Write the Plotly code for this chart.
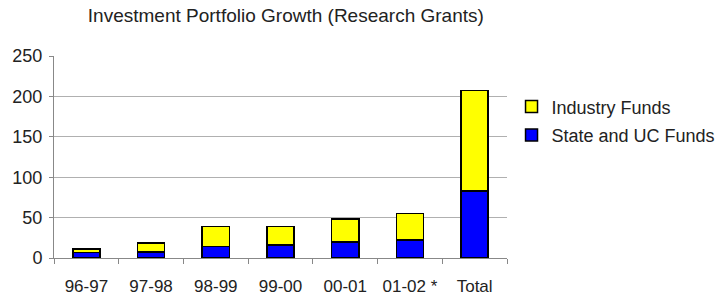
import plotly.graph_objects as go

categories = ["96-97", "97-98", "98-99", "99-00", "00-01", "01-02 *", "Total"]
state_uc = [7, 7.5, 14, 16, 20, 22, 83]
industry = [4, 11, 25, 23, 28, 33, 124]

fig = go.Figure()
fig.add_trace(go.Bar(x=categories, y=state_uc, name="State and UC Funds", legendgroup="b",
                     legendrank=2,
                     marker=dict(color="#0000ff", line=dict(color="#000000", width=1.5))))
fig.add_trace(go.Bar(x=categories, y=industry, name="Industry Funds", legendgroup="a",
                     legendrank=1,
                     marker=dict(color="#ffff00", line=dict(color="#000000", width=1.5))))

fig.update_layout(
    barmode="stack",
    bargap=0.58,
    width=726, height=299,
    margin=dict(l=54, r=219, t=56, b=41, autoexpand=False),
    paper_bgcolor="white", plot_bgcolor="white",
    font=dict(family="Liberation Sans, Arial, sans-serif", size=17, color="#222"),
    title=dict(text="Investment Portfolio Growth (Research Grants)", x=0.121, xanchor="left",
               y=0.947, yanchor="middle", font=dict(size=19, color="#222")),
    legend=dict(x=1.01, y=0.84, xanchor="left", yanchor="top", traceorder="grouped",
                font=dict(size=18), bgcolor="rgba(0,0,0,0)", tracegroupgap=2,
                itemwidth=30),
    showlegend=True,
)
fig.update_yaxes(range=[0, 250], tickvals=[0, 50, 100, 150, 200, 250],
                 showgrid=True, gridcolor="#b0b0b0", gridwidth=1,
                 showline=True, linecolor="#888", linewidth=1, automargin=False,
                 tickfont=dict(size=18), ticklabelstandoff=3,
                 ticks="outside", ticklen=4, tickcolor="#888", zeroline=False)
fig.update_xaxes(type="category", showline=True, linecolor="#888", linewidth=1,
                 tickangle=0, automargin=False, tickfont=dict(size=17),
                 ticklabelstandoff=13,
                 ticks="outside", tickson="boundaries", ticklen=5, tickcolor="#888")

fig.write_html("out.html", config={"displayModeBar": False},
               post_script="document.body.style.margin='0';")
